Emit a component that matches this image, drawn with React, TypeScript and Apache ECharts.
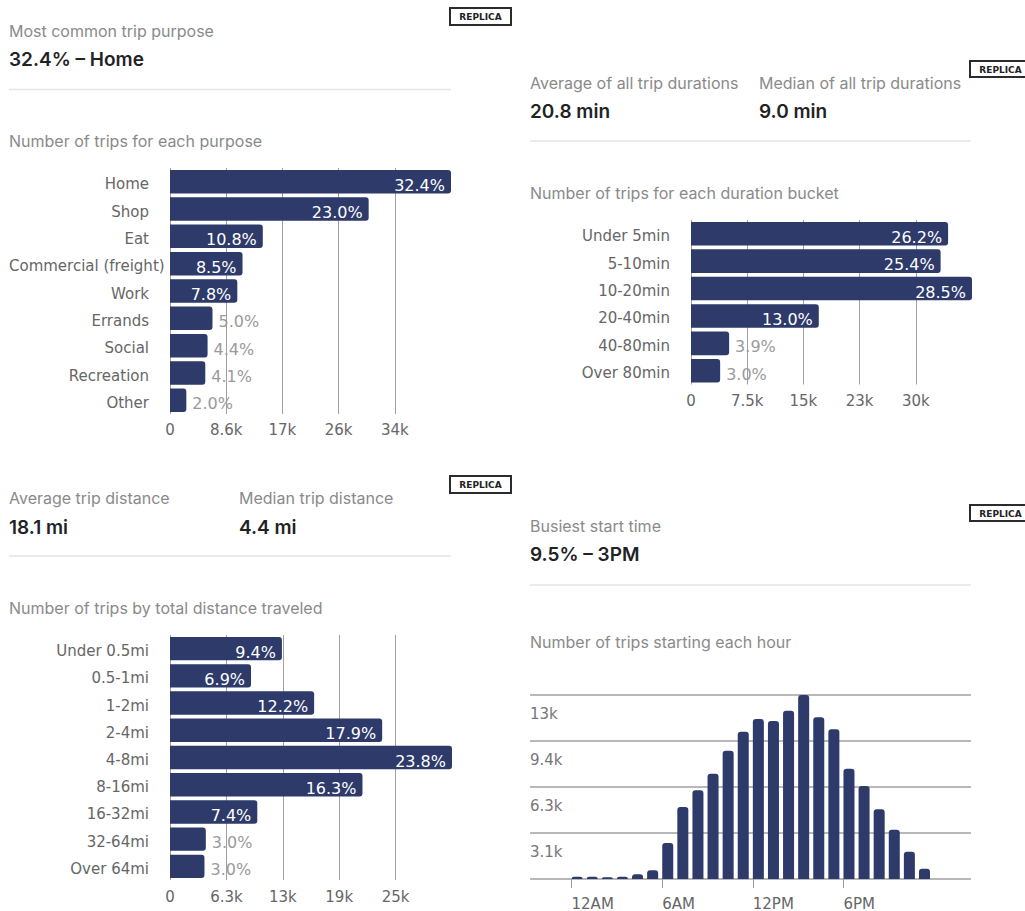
import React, { useEffect, useRef } from "react";
import * as echarts from "echarts";

// ---------- data ----------
const purposeCats = ["Home", "Shop", "Eat", "Commercial (freight)", "Work", "Errands", "Social", "Recreation", "Other"];
const purposePct = [32.4, 23.0, 10.8, 8.5, 7.8, 5.0, 4.4, 4.1, 2.0];
const purposeTrips = [43000, 30400, 14200, 11100, 10300, 6500, 5750, 5400, 2500];
const purposeMax = 43000;
const purposeWideLabel = "Commercial (freight)";

const durationCats = ["Under 5min", "5-10min", "10-20min", "20-40min", "40-80min", "Over 80min"];
const durationPct = [26.2, 25.4, 28.5, 13.0, 3.9, 3.0];
const durationTrips = [34400, 33400, 37600, 17100, 5100, 3900];
const durationMax = 37600;

const distanceCats = ["Under 0.5mi", "0.5-1mi", "1-2mi", "2-4mi", "4-8mi", "8-16mi", "16-32mi", "32-64mi", "Over 64mi"];
const distancePct = [9.4, 6.9, 12.2, 17.9, 23.8, 16.3, 7.4, 3.0, 3.0];
const distanceTrips = [12500, 9050, 16100, 23700, 31500, 21500, 9750, 4000, 3850];
const distanceMax = 31500;

const hours = [0, 1, 2, 3, 4, 5, 6, 7, 8, 9, 10, 11, 12, 13, 14, 15, 16, 17, 18, 19, 20, 21, 22, 23];
const hourlyTrips = [160, 160, 120, 160, 320, 590, 2460, 4910, 6050, 7190, 8760, 10050, 10920, 10780, 11490, 12560, 11040, 10220, 7530, 6350, 4760, 3370, 1860, 700];
const hourlyMax = 12560;
const hourTicks = [0, 6, 12, 18];
const hourTickLabels = ["12AM", "6AM", "12PM", "6PM"];

// ---------- styles ----------
const NAVY = "#2d3a6a";
const FONT = "'DejaVu Sans', sans-serif";
const HFONT = "Inter, 'Noto Sans', sans-serif";
const GRID_COLOR = "#a0a0a0";
const LABEL_COLOR = "#666";

const kFmt = (v: number) => (v === 0 ? "0" : (v / 1000).toPrecision(2) + "k");

function barLabel(pct: number[], i: number) {
  const inside = pct[i] >= 6;
  return {
    show: true,
    position: inside ? "insideRight" : "right",
    distance: 6,
    offset: [0, 3.5],
    color: inside ? "#ffffff" : "#9a9a9a",
    fontSize: 16,
    fontFamily: FONT,
    formatter: () => pct[i].toFixed(1) + "%",
  };
}

function hBarAxes(idx: number, cats: string[], max: number, margin: number, hidden: string[] = []) {
  return {
    x: {
      type: "value",
      gridIndex: idx,
      min: 0,
      max,
      interval: max / 5,
      axisLine: { show: false },
      axisTick: { show: false },
      splitLine: { show: true, showMaxLine: false, lineStyle: { color: GRID_COLOR, width: 1 } },
      axisLabel: { formatter: kFmt, showMaxLabel: false, color: LABEL_COLOR, fontSize: 15, fontFamily: FONT, margin },
    },
    y: {
      type: "category",
      gridIndex: idx,
      data: cats,
      inverse: true,
      axisLine: { show: false },
      axisTick: { show: false },
      axisLabel: {
        color: LABEL_COLOR,
        fontSize: 15,
        fontFamily: FONT,
        margin: 21,
        verticalAlign: "top",
        lineHeight: 5,
        formatter: (v: string) => (hidden.indexOf(v) >= 0 ? "" : v),
      },
    },
  };
}

function hBarSeries(idx: number, trips: number[], pct: number[]) {
  return {
    type: "bar",
    xAxisIndex: idx,
    yAxisIndex: idx,
    barCategoryGap: "14%",
    itemStyle: { color: NAVY, borderRadius: [0, 3, 3, 0] },
    data: trips.map((v, i) => ({ value: v, label: barLabel(pct, i) })),
  };
}

function txt(text: string, x: number, y: number, bold = false) {
  return {
    type: "text",
    x,
    y,
    style: {
      text,
      fill: bold ? "#1f2326" : "#8a8a8a",
      fontSize: bold ? 19 : 16,
      fontWeight: bold ? 600 : 400,
      fontFamily: HFONT,
      verticalAlign: "middle",
    },
  };
}

function divider(x1: number, x2: number, y: number) {
  return { type: "line", shape: { x1, y1: y, x2, y2: y }, style: { stroke: "#e4e4e4", lineWidth: 1.5 } };
}

function badge(x: number, y: number, w: number, h: number) {
  return [
    { type: "rect", shape: { x, y, width: w, height: h }, style: { fill: "#fff", stroke: "#2b2b2b", lineWidth: 2 } },
    {
      type: "text",
      x: x + w / 2,
      y: y + h / 2 + 0.5,
      style: { text: "REPLICA", fill: "#222", fontSize: 9, fontWeight: "bold", fontFamily: FONT, align: "center", verticalAlign: "middle" },
    },
  ];
}

export default function App() {
  const ref = useRef<HTMLDivElement>(null);
  useEffect(() => {
    document.body.style.margin = "0";
    if (!ref.current) return;
    const chart = echarts.init(ref.current, undefined, { renderer: "svg" });

    const a0 = hBarAxes(0, purposeCats, purposeMax, 8, [purposeWideLabel]);
    const a1 = hBarAxes(1, durationCats, durationMax, 9);
    const a2 = hBarAxes(2, distanceCats, distanceMax, 9);

    const gridBase = { containLabel: false, outerBoundsMode: "none" };

    const graphics: any[] = [
      // top-left
      txt("Most common trip purpose", 9, 31),
      txt("32.4% – Home", 9, 59, true),
      divider(9, 451, 89.5),
      txt("Number of trips for each purpose", 9, 141),
      ...badge(450, 8, 61, 17),
      // top-right
      txt("Average of all trip durations", 530, 83),
      txt("Median of all trip durations", 759, 83),
      txt("20.8 min", 530, 111.5, true),
      txt("9.0 min", 759, 111.5, true),
      divider(530, 971, 141),
      txt("Number of trips for each duration bucket", 530, 193),
      ...badge(970, 61, 61, 16),
      // bottom-left
      txt("Average trip distance", 9, 498),
      txt("Median trip distance", 239, 498),
      txt("18.1 mi", 9, 527, true),
      txt("4.4 mi", 239, 527, true),
      divider(9, 451, 556),
      txt("Number of trips by total distance traveled", 9, 607.5),
      ...badge(450, 476, 61, 17),
      // bottom-right
      txt("Busiest start time", 530, 526),
      txt("9.5% – 3PM", 530, 554.5, true),
      divider(530, 971, 585),
      txt("Number of trips starting each hour", 530, 641.5),
      ...badge(970, 505, 61, 16),
    ];

    const option: any = {
      animation: false,
      backgroundColor: "#ffffff",
      grid: [
        { ...gridBase, left: 170, top: 168, width: 281, height: 246 },
        { ...gridBase, left: 691, top: 220, width: 281, height: 164.5 },
        { ...gridBase, left: 170, top: 635, width: 282, height: 245 },
        { ...gridBase, left: 530, top: 695, width: 441, height: 184 },
      ],
      xAxis: [
        a0.x,
        a1.x,
        a2.x,
        {
          type: "value",
          gridIndex: 3,
          min: -2.75,
          max: 26.45,
          axisLine: { show: false },
          splitLine: { show: false },
          axisTick: { show: true, customValues: hourTicks, length: 9, lineStyle: { color: "#999" } },
          axisLabel: {
            customValues: hourTicks,
            formatter: (v: number) => hourTickLabels[hourTicks.indexOf(v)] ?? "",
            align: "left",
            margin: 17,
            color: LABEL_COLOR,
            fontSize: 15,
            fontFamily: FONT,
          },
        },
      ],
      yAxis: [
        a0.y,
        a1.y,
        a2.y,
        {
          type: "value",
          gridIndex: 3,
          min: 0,
          max: hourlyMax,
          interval: hourlyMax / 4,
          axisLine: { show: false },
          axisTick: { show: false },
          splitLine: { show: true, lineStyle: { color: GRID_COLOR, width: 1.5 } },
          axisLabel: {
            inside: true,
            showMinLabel: false,
            showMaxLabel: true,
            formatter: (v: number) => (v === 0 ? "" : kFmt(v)),
            verticalAlign: "top",
            padding: [11, 0, 0, 0],
            margin: 0,
            color: "#777",
            fontSize: 15,
            fontFamily: FONT,
          },
        },
      ],
      series: [
        hBarSeries(0, purposeTrips, purposePct),
        hBarSeries(1, durationTrips, durationPct),
        hBarSeries(2, distanceTrips, distancePct),
        {
          type: "bar",
          xAxisIndex: 3,
          yAxisIndex: 3,
          barWidth: 11,
          itemStyle: { color: NAVY, borderRadius: [3, 3, 0, 0] },
          data: hours.map((h, i) => [h + 0.37, hourlyTrips[i]]),
        },
      ],
      graphic: graphics,
    };
    chart.setOption(option);

    // The wide category label overflows the label area; place it from the panel's left edge,
    // at the category's position as given by the axis scale.
    const wideY = chart.convertToPixel({ yAxisIndex: 0 }, purposeWideLabel) as number;
    chart.setOption({
      graphic: [
        ...graphics,
        {
          type: "text",
          x: 9,
          y: wideY + 2.5,
          style: { text: purposeWideLabel, fill: LABEL_COLOR, fontSize: 15, fontFamily: FONT, verticalAlign: "middle" },
        },
      ],
    });
    return () => chart.dispose();
  }, []);
  return <div ref={ref} style={{ width: 1025, height: 911 }} />;
}
